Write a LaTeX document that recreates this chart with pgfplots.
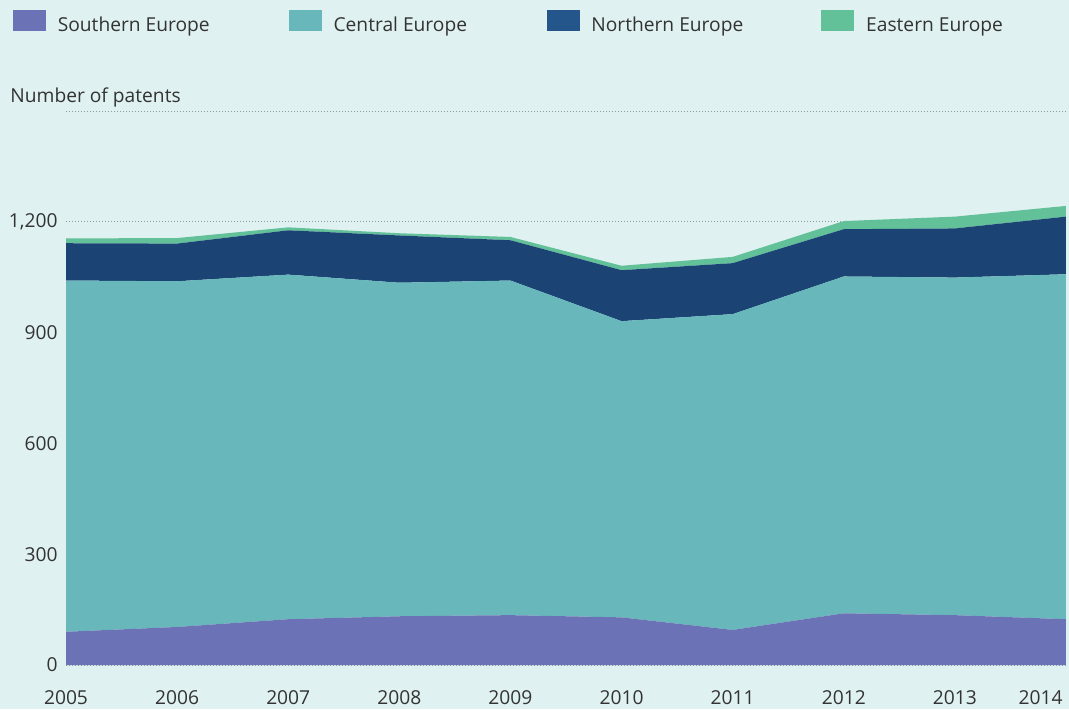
\documentclass[border=0pt]{standalone}
\usepackage{fontspec}
\setmainfont{Open Sans}
\usepackage{pgfplots}
\pgfplotsset{compat=1.18}

\definecolor{bgc}{HTML}{DFF1F1}
\definecolor{cS}{HTML}{6B72B5}
\definecolor{cC}{HTML}{68B8BB}
\definecolor{cN}{HTML}{1B4474}
\definecolor{cNleg}{HTML}{24568C}
\definecolor{cE}{HTML}{63C199}
\definecolor{txt}{HTML}{333333}
\definecolor{gridc}{HTML}{8C9A9A}

\begin{document}
\fontsize{9.6}{11.5}\selectfont
\begin{tikzpicture}
\useasboundingbox (-33pt,-22pt) rectangle (501.5pt,332.5pt);
\fill[bgc] (-33pt,-22pt) rectangle (501.5pt,332.5pt);
\begin{axis}[
    scale only axis,
    width=500pt, height=277pt,
    xmin=2005, xmax=2014,
    ymin=0, ymax=1500,
    stack plots=y,
    axis line style={draw=none},
    major tick length=0pt,
    clip=false,
    xtick={2005,2006,2007,2008,2009,2010,2011,2012,2013},
    xticklabels={2005,2006,2007,2008,2009,2010,2011,2012,2013},
    extra x ticks={2014},
    extra x tick labels={2014},
    extra x tick style={xticklabel style={anchor=north east, xshift=-1.5pt}},
    ytick={0,300,600,900,1200,1500},
    yticklabels={0,300,600,900,{1,200},{}},
    /pgf/number format/assume math mode=true,
    xticklabel style={anchor=north, inner sep=0pt, text height=7.5pt, text depth=0pt,
        yshift=-12pt, text=txt},
    yticklabel style={anchor=east, inner sep=0pt, xshift=-4pt, text=txt},
    ymajorgrids,
    grid style={gridc, line width=0.5pt, dash pattern=on 0.5pt off 1pt},
    legend columns=4,
    legend cell align=left,
    legend style={at={(axis description cs:-0.053,1.1823)}, anchor=north west,
        draw=none, fill=none, inner sep=0pt, outer sep=0pt, column sep=0pt,
        /tikz/every odd column/.append style={column sep=6pt},
        nodes={inner sep=0pt, text=txt, yshift=3pt}},
]
% Southern, Central, Northern, Eastern Europe (stacked)
\addplot[fill=cS, draw=none, forget plot] coordinates {
 (2005,90) (2006,103) (2007,124) (2008,132) (2009,135)
 (2010,129) (2011,95) (2012,140) (2013,135) (2014,124)} \closedcycle;
\addplot[fill=cC, draw=none, forget plot] coordinates {
 (2005,951) (2006,936) (2007,933) (2008,903) (2009,906)
 (2010,802) (2011,855) (2012,912) (2013,914) (2014,934)} \closedcycle;
\addplot[fill=cN, draw=none, forget plot] coordinates {
 (2005,101) (2006,102) (2007,120) (2008,128) (2009,109)
 (2010,138) (2011,138) (2012,128) (2013,133) (2014,156)} \closedcycle;
\addplot[fill=cE, draw=none, forget plot] coordinates {
 (2005,13) (2006,15) (2007,8) (2008,6) (2009,9)
 (2010,12) (2011,17) (2012,22) (2013,32) (2014,29)} \closedcycle;

\addlegendimage{legend image code/.code={\fill[cS] (0pt,0.85pt) rectangle (16pt,10.85pt);}}
\addlegendentry{\makebox[115.5pt][l]{Southern Europe}}
\addlegendimage{legend image code/.code={\fill[cC] (0pt,0.85pt) rectangle (16pt,10.85pt);}}
\addlegendentry{\makebox[106.5pt][l]{Central Europe}}
\addlegendimage{legend image code/.code={\fill[cNleg] (0pt,0.85pt) rectangle (16pt,10.85pt);}}
\addlegendentry{\makebox[115pt][l]{Northern Europe}}
\addlegendimage{legend image code/.code={\fill[cE] (0pt,0.85pt) rectangle (16pt,10.85pt);}}
\addlegendentry{Eastern Europe}

\node[anchor=base west, inner sep=0pt, text=txt] at (axis description cs:-0.056,1.0162) {Number of patents};
\end{axis}
\end{tikzpicture}
\end{document}
